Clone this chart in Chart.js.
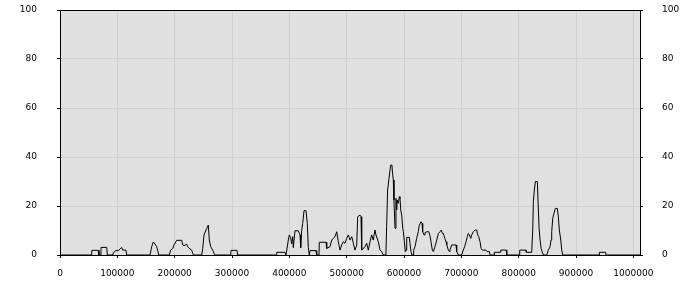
<!DOCTYPE html>
<html>
<head>
<meta charset="utf-8">
<script src="https://cdn.jsdelivr.net/npm/chart.js@4/dist/chart.umd.min.js"></script>
<style>
  html, body { margin: 0; padding: 0; background: #fff; }
  #wrap { width: 700px; height: 300px; }
</style>
</head>
<body>
<div id="wrap"><canvas id="c" width="700" height="300"></canvas></div>
<script>
// positions along the x axis, in thousands
const posK = [
    0, 54.1, 55.3, 66.8, 68.0,
    71.0, 71.5, 81.5, 82.5,
    92.4, 93.0, 97.7, 101.7, 104.7, 107.6, 109.4, 115.1, 116.3,
    157.0, 159.9, 162.7, 165.7, 168.6, 170.4, 172.2,
    190.6, 193.1, 196.6, 198.8, 203.5, 212.3, 214.0, 216.3, 221.0, 222.7, 225.5, 229.7, 232.5,
    247.2, 248.9, 251.2, 254.7, 258.7, 260.4, 262.9, 266.3, 268.6, 270.4,
    297.7, 298.3, 308.7, 309.9,
    377.3, 378.0, 392.4, 394.2,
    398.2, 400.0, 402.4, 404.1, 405.9, 406.9, 409.9, 415.6, 418.6, 419.8, 421.5, 423.3, 425.6, 429.1, 431.3, 433.1, 434.8,
    436.1, 446.5, 447.7,
    451.7, 452.3, 464.0, 465.2,
    470.9, 473.9, 476.7, 479.7, 482.6, 485.4, 488.4, 491.3, 494.1, 497.1, 500.1, 502.9, 505.8, 508.8, 511.6, 514.5,
    517.5, 519.2, 523.3, 525.0, 526.2, 532.0, 534.9, 537.7, 540.7, 543.6, 546.4, 549.4, 551.1, 555.2, 558.1, 561.1, 563.9,
    568.4, 569.7, 571.4, 573.8, 576.7, 579.0, 579.5, 581.3, 582.5, 584.3, 586.0, 587.3, 588.3, 590.1, 591.8, 593.0,
    594.3, 596.0, 597.8, 598.8, 600.6, 602.3, 603.5, 604.7, 609.3, 610.5, 612.2, 614.0,
    615.7, 616.9, 619.2, 622.1, 624.9, 626.7, 629.7, 631.4, 632.6, 634.9, 636.6, 639.6, 643.1, 645.4, 647.1, 649.4, 651.2,
    654.1, 657.1, 659.9, 662.8, 665.1, 666.9, 668.6, 671.1, 673.3, 674.6, 677.3, 679.1, 680.2, 683.2, 690.7, 691.9, 694.7,
    700.6, 703.4, 705.8, 708.2, 710.4, 712.2, 713.9, 716.4, 718.1, 720.9, 723.9, 726.8, 728.6, 730.3, 732.6, 734.4,
    736.6, 743.0, 744.8, 748.8, 750.0,
    757.1, 757.6, 767.5, 768.7, 778.5, 779.2,
    801.1, 801.8, 812.8, 813.3, 822.7,
    824.5, 825.6, 827.3, 829.1, 832.6, 833.8, 835.6, 837.3, 839.1, 840.8, 843.1,
    848.9, 851.7, 854.7, 856.4, 857.6, 859.4, 861.6, 863.9, 867.4, 869.2, 870.9, 873.4, 875.1, 876.9,
    940.1, 940.7, 951.8, 952.3, 1011.6
];

const values = [
    0, 0, 1.9, 1.9, 0,
    0, 3.1, 3.1, 0,
    0, 1, 1.8, 1.8, 2.4, 3.1, 2, 2, 0,
    0, 3.4, 5.3, 4.5, 3.4, 1.8, 0,
    0, 2, 2.7, 4.1, 6, 6, 4.1, 3.8, 4.4, 3.4, 2.7, 2, 0,
    0, 2.7, 8.2, 10.2, 12.2, 6.1, 3.4, 2, 0.7, 0,
    0, 1.9, 1.9, 0,
    0, 1.1, 1.1, 0,
    6.1, 8.2, 7, 4.5, 7.5, 3, 9.9, 9.9, 8.2, 3, 10, 12.9, 18.1, 18.1, 12.9, 3, 0,
    1.8, 1.8, 0,
    0, 5.2, 5.2, 2.7,
    3.4, 6.1, 6.8, 7.5, 9.5, 5.4, 2, 4.1, 5.4, 4.8, 6.8, 8.2, 6.1, 7.5, 4.8, 2,
    4.1, 15.6, 16.3, 15.6, 2, 3.4, 4.8, 2, 5.4, 8.2, 6.1, 10.2, 8.2, 5.4, 2, 1.4, 0,
    0, 11.6, 26.5, 31.3, 36.7, 36.7, 34.7, 30.6, 22.4, 10.9, 23.1, 18.4, 22.4, 21.1, 23.8, 23.1,
    18.4, 16.3, 10.9, 9.5, 5.4, 1.4, 2, 7.2, 7.2, 4.8, 1.4, 0,
    0, 2, 3.4, 6.8, 9.5, 12.2, 13.6, 12.9, 9.5, 8.2, 9.1, 9.5, 9.5, 7.8, 5.4, 2, 1.4,
    3.4, 6.1, 8.8, 9.5, 10.2, 8.8, 8.8, 6.8, 5.4, 4.1, 2, 1.4, 2, 4.1, 4.1, 1.4, 0,
    0, 2, 3.4, 5.4, 7.5, 8.8, 8.2, 6.8, 8.2, 9.5, 10.2, 10.2, 8.2, 7.5, 5.4, 2.7,
    2, 2, 1.4, 1.4, 0,
    0, 1.1, 1.1, 2, 2, 0,
    0, 2, 2, 1.1, 1.1,
    10.2, 21.8, 26.5, 30, 30, 21.8, 10.9, 6.1, 2.7, 1.4, 0,
    0, 2, 3.4, 6.1, 9.5, 15, 17, 19, 19, 15.6, 10.2, 6.1, 2, 0,
    0, 1.1, 1.1, 0, 0
];

const xTicks = [0, 100000, 200000, 300000, 400000, 500000, 600000, 700000, 800000, 900000, 1000000];
const yTicks = [0, 20, 40, 60, 80, 100];
const X_MAX = 1011600;

const FONT = { family: 'DejaVu Sans', size: 9 };
const GRID = '#d0d0d0';

const plotFrame = {
    id: 'plotFrame',
    beforeDraw(chart) {
        const a = chart.chartArea, ctx = chart.ctx;
        ctx.save();
        ctx.fillStyle = '#e0e0e0';
        ctx.fillRect(a.left, a.top, a.right - a.left, a.bottom - a.top);
        ctx.restore();
    },
    afterDraw(chart) {
        const a = chart.chartArea, ctx = chart.ctx;
        ctx.save();
        ctx.strokeStyle = '#000';
        ctx.lineWidth = 1;
        ctx.strokeRect(Math.round(a.left) + 0.5, Math.round(a.top) + 0.5,
                       Math.round(a.right - a.left), Math.round(a.bottom - a.top));
        ctx.restore();
    }
};

function yAxis(pos, pad) {
    return {
        type: 'linear',
        position: pos,
        min: 0, max: 100,
        afterBuildTicks: s => { s.ticks = yTicks.map(v => ({ value: v })); },
        // fixed gutter; drop the label padding chart.js adds above and below
        afterFit: s => { s.width = 60; s.paddingTop = 0; s.paddingBottom = 0; },
        grid: { color: GRID, tickColor: '#000', tickLength: 3, drawOnChartArea: pos === 'left' },
        border: { color: '#000' },
        ticks: { font: FONT, color: '#000', padding: pad, callback: v => String(v) },
    };
}

new Chart(document.getElementById('c'), {
    type: 'line',
    data: {
        datasets: [{
            data: posK.map((p, i) => ({ x: Math.round(p * 1000), y: values[i] })),
            borderColor: '#000',
            borderWidth: 1,
            pointRadius: 0,
            tension: 0,
            fill: false,
        }],
    },
    options: {
        responsive: false,
        animation: false,
        layout: { padding: { top: 10, left: 0, right: 0, bottom: 0 } },
        plugins: { legend: { display: false }, tooltip: { enabled: false } },
        scales: {
            x: {
                type: 'linear',
                min: 0, max: X_MAX,
                afterBuildTicks: s => { s.ticks = xTicks.map(v => ({ value: v })); },
                afterFit: s => { s.height = 45; s.paddingLeft = 0; s.paddingRight = 0; },
                grid: { color: GRID, tickColor: '#000', tickLength: 3 },
                border: { color: '#000' },
                ticks: { font: FONT, color: '#000', padding: 10, maxRotation: 0, autoSkip: false,
                         callback: v => String(v) },
            },
            y: yAxis('left', 20),
            y2: yAxis('right', 19),
        },
    },
    plugins: [plotFrame],
});
</script>
</body>
</html>
